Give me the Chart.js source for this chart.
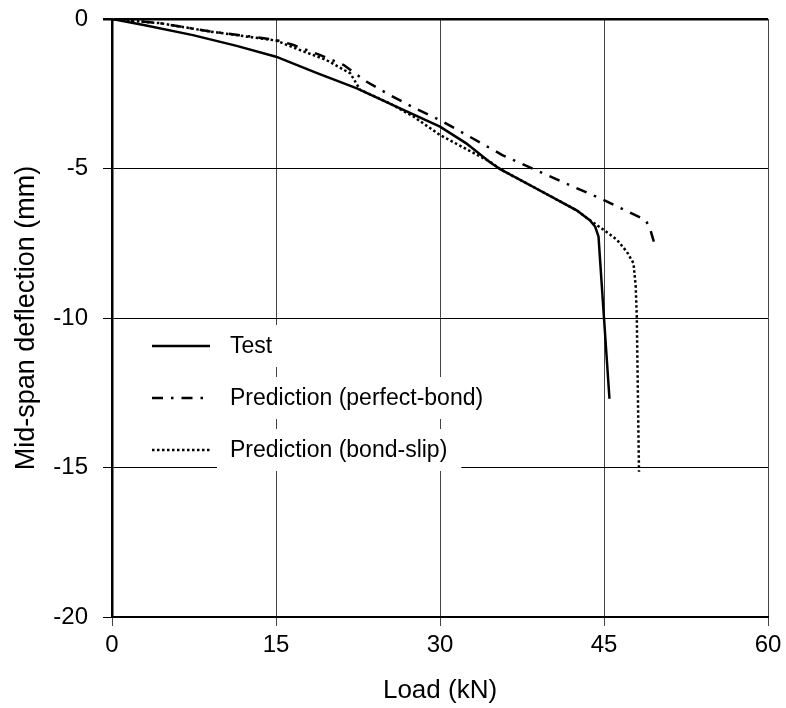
<!DOCTYPE html>
<html>
<head>
<meta charset="utf-8">
<title>Mid-span deflection vs load</title>
<script src="https://cdn.jsdelivr.net/npm/chart.js@4.4.1/dist/chart.umd.min.js"></script>
<style>
  body { margin: 0; background: #fff; }
  canvas { display: block; }
</style>
</head>
<body>
<canvas id="deflChart" width="786" height="708"></canvas>
<script>
// ===== DATA =====
const seriesNames = ['Test', 'Prediction (perfect-bond)', 'Prediction (bond-slip)'];

const testLoad = [0, 2.9, 7.4, 11.4, 15, 18.7, 22.4, 26, 30, 32.4, 34.6, 35.5, 38.5, 42.5, 43.7, 44.2, 44.5, 44.6, 45.0, 45.5];
const testDefl = [0, -0.2, -0.54, -0.9, -1.26, -1.8, -2.32, -2.93, -3.6, -4.16, -4.8, -5.02, -5.61, -6.4, -6.73, -6.95, -7.28, -7.84, -10.0, -12.7];

const perfectLoad = [0, 4.4, 9, 11.7, 15, 16.6, 19, 21.2, 23.3, 25.4, 27.9, 30, 35.7, 39.8, 45, 48.8, 49.2, 49.6];
const perfectDefl = [0, -0.14, -0.42, -0.54, -0.7, -0.87, -1.2, -1.54, -2.1, -2.54, -3.02, -3.38, -4.55, -5.22, -6.06, -6.72, -7.0, -7.5];

const slipLoad = [0, 4.4, 9, 15, 17.2, 19.6, 21.8, 22.7, 25.4, 27.6, 30, 34.6, 35.5, 38.5, 42.5, 43.4, 45, 46.2, 47.1, 47.7, 47.9, 48.0, 48.2];
const slipDefl = [0, -0.14, -0.42, -0.72, -1.04, -1.37, -1.82, -2.37, -2.82, -3.27, -3.88, -4.78, -5.02, -5.61, -6.4, -6.65, -7.06, -7.39, -7.79, -8.17, -8.95, -9.96, -15.14];

const xTicks = [0, 15, 30, 45, 60];
const yTicks = [-20, -15, -10, -5, 0];

const FONT = '"Liberation Sans", Arial, sans-serif';

function toPoints(xs, ys) {
    return xs.map((x, i) => ({ x: x, y: ys[i] }));
}

// legend drawn inside the plot, each entry on a white block (hides gridlines behind it)
const insideLegend = {
    id: 'insideLegend',
    afterDraw(chart) {
        const ctx = chart.ctx;
        const area = chart.chartArea;
        ctx.save();
        ctx.font = '23px ' + FONT;
        ctx.textBaseline = 'middle';
        chart.data.datasets.forEach((ds, i) => {
            const y = area.top + 327 + i * 52;
            const tx = area.left + 118;
            const w = ctx.measureText(ds.label).width;
            ctx.fillStyle = '#fff';
            ctx.fillRect(tx - 13, y - 21, w + 27, 42);
            ctx.strokeStyle = ds.borderColor;
            ctx.lineWidth = ds.borderWidth;
            ctx.setLineDash(ds.borderDash || []);
            ctx.beginPath();
            ctx.moveTo(area.left + 40, y);
            ctx.lineTo(area.left + 98, y);
            ctx.stroke();
            ctx.setLineDash([]);
            ctx.fillStyle = '#000';
            ctx.fillText(ds.label, tx, y + 1);
        });
        ctx.restore();
    }
};

const chart = new Chart(document.getElementById('deflChart'), {
    type: 'line',
    data: {
        datasets: [
            {
                label: seriesNames[0],
                data: toPoints(testLoad, testDefl),
                borderColor: '#000',
                borderWidth: 2.5,
                pointRadius: 0,
                tension: 0
            },
            {
                label: seriesNames[1],
                data: toPoints(perfectLoad, perfectDefl),
                borderColor: '#000',
                borderWidth: 2.5,
                borderDash: [11, 8, 2.5, 8],
                pointRadius: 0,
                tension: 0
            },
            {
                label: seriesNames[2],
                data: toPoints(slipLoad, slipDefl),
                borderColor: '#000',
                borderWidth: 2.5,
                borderDash: [2.5, 2.5],
                pointRadius: 0,
                tension: 0
            }
        ]
    },
    options: {
        responsive: false,
        animation: false,
        devicePixelRatio: 1,
        layout: { padding: { top: 19, right: 18, bottom: 0, left: 0 } },
        plugins: {
            legend: { display: false },
            tooltip: { enabled: false }
        },
        scales: {
            x: {
                type: 'linear',
                min: xTicks[0],
                max: xTicks[xTicks.length - 1],
                afterFit: (scale) => {
                    scale.height = 91;
                    scale.paddingLeft = 0;
                    scale.paddingRight = 0;
                },
                afterBuildTicks: (scale) => { scale.ticks = xTicks.map(v => ({ value: v })); },
                ticks: {
                    color: '#000',
                    font: { family: FONT, size: 24 },
                    padding: 5,
                    maxRotation: 0
                },
                grid: {
                    color: '#444',
                    lineWidth: 1,
                    tickLength: 9
                },
                border: { color: '#000', width: 2 },
                title: {
                    display: true,
                    text: 'Load (kN)',
                    color: '#000',
                    font: { family: FONT, size: 26 },
                    padding: { top: 0, bottom: 2 }
                }
            },
            y: {
                type: 'linear',
                min: yTicks[0],
                max: yTicks[yTicks.length - 1],
                afterFit: (scale) => {
                    scale.width = 112;
                    scale.paddingTop = 0;
                    scale.paddingBottom = 0;
                },
                afterBuildTicks: (scale) => { scale.ticks = yTicks.map(v => ({ value: v })); },
                ticks: {
                    color: '#000',
                    font: { family: FONT, size: 24 },
                    padding: 15
                },
                grid: {
                    color: '#000',
                    lineWidth: (c) => (c.tick && c.tick.value === 0 ? 2.5 : 1),
                    tickLength: 9
                },
                border: { color: '#000', width: 2.5 },
                title: {
                    display: true,
                    text: 'Mid-span deflection (mm)',
                    color: '#000',
                    font: { family: FONT, size: 27 },
                    padding: { top: 10, bottom: 0 }
                }
            }
        }
    },
    plugins: [insideLegend]
});
</script>
</body>
</html>
